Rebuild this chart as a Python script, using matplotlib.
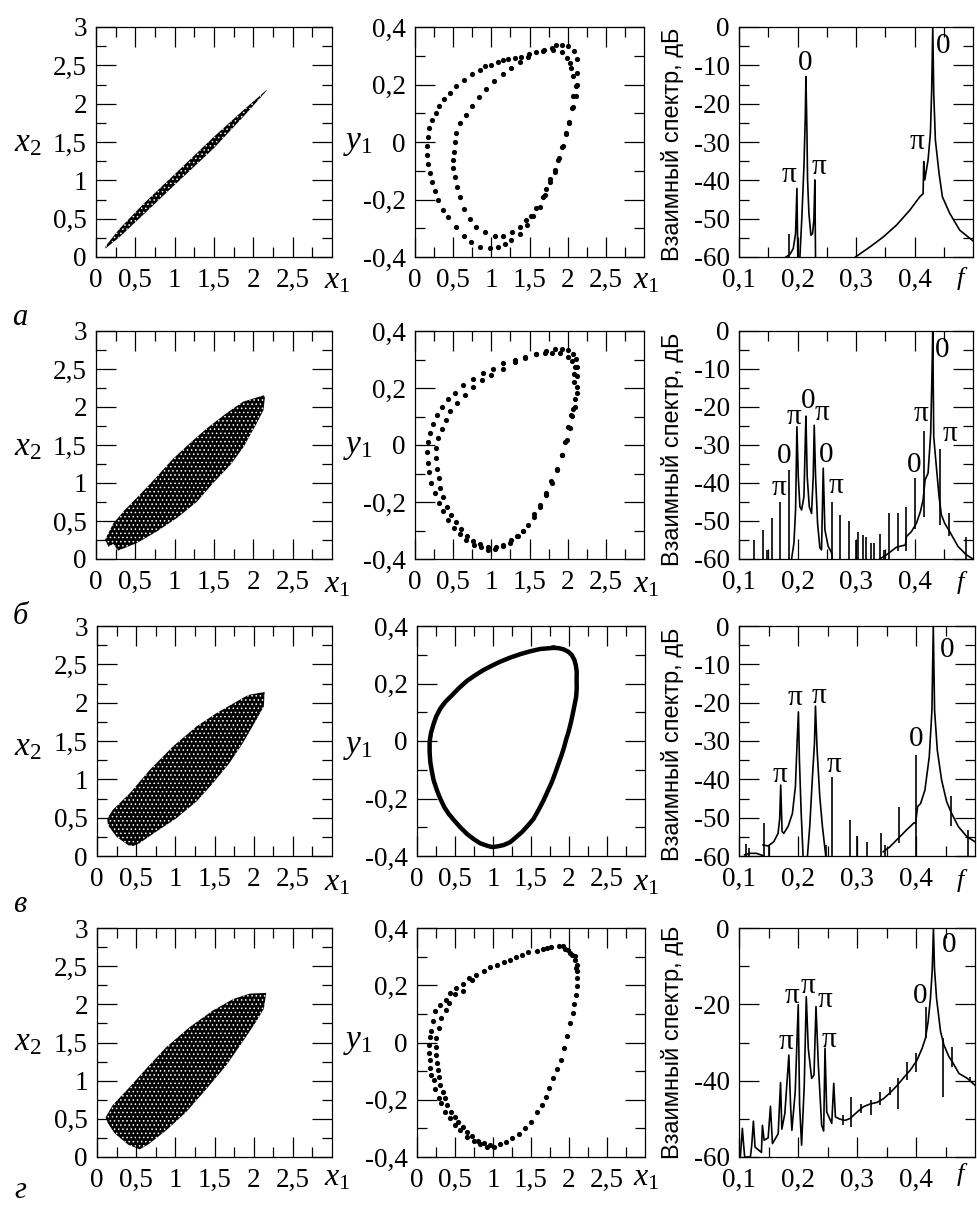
import matplotlib
matplotlib.use("Agg")
import matplotlib.pyplot as plt

plt.rcParams['font.family'] = ['Liberation Serif', 'DejaVu Serif']
plt.rcParams['mathtext.fontset'] = 'custom'
plt.rcParams['mathtext.rm'] = 'Liberation Serif'
plt.rcParams['mathtext.it'] = 'Liberation Serif:italic'
plt.rcParams['hatch.linewidth'] = 0.6

W, H = 977, 1205

# Tick labels
x_major = [0, 0.5, 1, 1.5, 2, 2.5]
x_minor = [0.25, 0.75, 1.25, 1.75, 2.25, 2.75]
x_labels = ["0", "0,5", "1", "1,5", "2", "2,5"]
x2_major = [0, 0.5, 1, 1.5, 2, 2.5, 3]
x2_minor = [0.25, 0.75, 1.25, 1.75, 2.25, 2.75]
x2_labels = ["0", "0,5", "1", "1,5", "2", "2,5", "3"]
y1_major = [-0.4, -0.2, 0, 0.2, 0.4]
y1_minor = [-0.3, -0.1, 0.1, 0.3]
y1_labels = ["-0,4", "-0,2", "0", "0,2", "0,4"]
f_major = [0.1, 0.2, 0.3, 0.4]
f_minor = [0.15, 0.25, 0.35, 0.45]
f_labels = ["0,1", "0,2", "0,3", "0,4"]
db_major = [0, -10, -20, -30, -40, -50, -60]
db_minor = [-5, -15, -25, -35, -45, -55]
db_labels = ["0", "-10", "-20", "-30", "-40", "-50", "-60"]
db4_major = [0, -20, -40, -60]
db4_minor = [-10, -30, -50]
db4_labels = ["0", "-20", "-40", "-60"]
row_letters = ["а", "б", "в", "г"]

# Column 1: outline of the x1-x2 cloud
cloud_a_x = [0.12, 0.3, 0.6, 1.0, 1.5, 1.9, 2.17, 2.17, 1.9, 1.5, 1.0, 0.6, 0.3, 0.12]
cloud_a_y = [0.14, 0.37, 0.69, 1.08, 1.57, 1.94, 2.18, 2.17, 1.86, 1.42, 0.94, 0.55, 0.26, 0.11]
cloud_b_x = [.115, .22, .37, .56, .77, .98, 1.20, 1.41, 1.66, 1.87, 2.15, 2.13, 2.04, 1.88, 1.71, 1.49, 1.28, 1.03, .77, .52, .28, .22, .16]
cloud_b_y = [.254, .47, .65, .85, 1.08, 1.32, 1.53, 1.72, 1.92, 2.07, 2.16, 1.96, 1.78, 1.48, 1.24, 1.0, .75, .54, .36, .21, .11, .20, .16]
cloud_c_x = [.13, .20, .42, .67, .97, 1.27, 1.52, 1.74, 1.93, 2.14, 2.13, 2.03, 1.86, 1.69, 1.48, 1.27, 1.01, .76, .54, .46, .40, .25, .14]
cloud_c_y = [.49, .60, .82, 1.12, 1.43, 1.69, 1.86, 1.99, 2.10, 2.14, 1.95, 1.77, 1.47, 1.21, .95, .71, .49, .32, .165, .13, .14, .25, .40]
cloud_d_x = [.11, .20, .42, .63, .885, 1.18, 1.48, 1.74, 1.95, 2.16, 2.13, 2.03, 1.86, 1.65, 1.40, 1.14, .885, .67, .545, .40, .225, .14]
cloud_d_y = [.52, .68, .92, 1.16, 1.44, 1.70, 1.92, 2.07, 2.14, 2.15, 1.94, 1.77, 1.51, 1.20, .895, .59, .35, .175, .10, .16, .31, .44]

# Column 2: x1-y1 section dots
sec_a_x = [1.92, 1.85, 1.79, 1.69, 1.59, 1.49, 1.39, 1.31, 1.22, 1.15, 1.09, .99, .92, .85, .75, .64, .54, .455, .38, .315, .27, .22, .18, .17, .157, .157, .17, .19, .227, .258, .30, .367, .433, .54, .64, .74, .85, .98, 1.09, 1.18, 1.26, 1.37, 1.47, 1.55, 1.635, 1.70, 1.775, 1.83, 1.89, 1.94, 1.98, 2.02, 2.06, 2.11, 2.125, 2.125, 2.125, 2.08, 2.01,
           2.03, 1.985, 1.92, 1.81, 1.68, 1.48, 1.37, 1.26, 1.15, 1.03, .93, .84, .75, .67, .595, .54, .52, .507, .50, .50, .52, .55, .586, .64, .717, .805, .914, 1.045, 1.154, 1.277, 1.373, 1.46, 1.526, 1.59, 1.68, 1.72, 1.775, 1.83, 1.876, 1.93, 1.976, 2.02, 2.064, 2.07, 2.108, 2.07, 2.05]
sec_a_y = [.337, .336, .327, .319, .313, .305, .296, .291, .289, .284, .278, .268, .264, .25, .235, .215, .194, .17, .15, .126, .10, .075, .048, .019, -.014, -.046, -.077, -.107, -.139, -.17, -.203, -.236, -.261, -.294, -.326, -.349, -.364, -.369, -.364, -.355, -.341, -.32, -.287, -.259, -.226, -.186, -.139, -.104, -.057, -.014, .028, .065, .118, .159, .20, .24, .287, .316, .334,
           .275, .293, .313, .32, .316, .296, .279, .258, .235, .211, .184, .156, .124, .095, .065, .033, .001, -.034, -.063, -.092, -.121, -.156, -.191, -.232, -.267, -.296, -.314, -.326, -.326, -.314, -.296, -.273, -.256, -.229, -.191, -.162, -.127, -.098, -.061, -.016, .03, .071, .121, .159, .194, .229, .258]

sec_b_x = [2.11, 2.125, 2.125, 2.116, 2.10, 2.07, 2.06, 2.007, 1.985, 1.92, 1.863, 1.797, 1.72, 1.635, 1.56, 1.48, 1.417, 1.33, 1.25, 1.154, 1.045, .958, .87, .77, .673, .595, .51, .433, .367, .31, .258, .205, .18, .17, .162, .175, .20, .236, .29, .354, .433, .53, .634, .756, .892, 1.023, 1.154, 1.307, 1.447, 1.58, 1.71, 1.83, 1.93, 2.01, 2.064,
           2.06, 2.007, 1.906, 1.797, 1.70, 1.59, 1.44, 1.307, 1.154, 1.00, .883, .76, .65, .55, .455, .40, .35, .30, .28, .28, .29, .31, .332, .367, .42, .477, .54, .608, .686, .76, .848, .958, 1.067, 1.154, 1.264, 1.35, 1.417, 1.56, 1.644, 1.714, 1.788, 1.854, 1.92, 1.963, 2.03, 2.05, 2.09, 2.116, 2.086, 2.10, 2.08]
sec_b_y = [.301, .274, .242, .204, .163, .128, .102, .064, .018, -.035, -.088, -.134, -.175, -.218, -.251, -.28, -.30, -.321, -.344, -.354, -.365, -.368, -.358, -.35, -.333, -.312, -.292, -.263, -.233, -.202, -.167, -.132, -.096, -.062, -.026, .009, .043, .074, .105, .134, .161, .184, .209, .23, .251, .268, .286, .298, .308, .321, .33, .338, .338, .333, .321,
           .295, .309, .324, .324, .323, .319, .307, .292, .268, .247, .228, .202, .175, .149, .119, .088, .055, .023, -.012, -.047, -.085, -.117, -.152, -.184, -.216, -.245, -.271, -.294, -.321, -.338, -.347, -.358, -.358, -.35, -.335, -.321, -.303, -.242, -.21, -.169, -.128, -.085, -.035, .012, .058, .105, .134, .181, .222, .272, .249]

sec_c_x = [1.796, 1.862, 1.927, 1.993, 2.037, 2.072, 2.089, 2.102, 2.10, 2.102, 2.094, 2.05, 2.024, 1.993, 1.962, 1.936, 1.901, 1.862, 1.818, 1.774, 1.721, 1.664, 1.603, 1.533, 1.459, 1.38, 1.301, 1.226, 1.139, 1.051, .986, .92, .832, .745, .657, .569, .491, .416, .359, .307, .263, .219, .193, .175, .166, .166, .184, .219, .254, .307, .372, .46, .548, .657, .767, .876, .986, 1.095, 1.226, 1.358, 1.489, 1.62, 1.708, 1.796]
sec_c_y = [.324, .323, .319, .31, .299, .281, .264, .241, .212, .183, .153, .095, .063, .031, .005, -.021, -.05, -.079, -.112, -.143, -.174, -.207, -.238, -.271, -.294, -.317, -.335, -.352, -.362, -.367, -.369, -.364, -.356, -.341, -.323, -.30, -.277, -.253, -.23, -.201, -.172, -.137, -.102, -.073, -.038, -.003, .028, .06, .086, .113, .136, .159, .183, .209, .229, .247, .262, .276, .29, .302, .312, .32, .322, .324]

sec_d_x = [1.927, 1.862, 1.761, 1.664, 1.577, 1.467, 1.38, 1.305, 1.226, 1.139, 1.051, .964, .876, .78, .679, .604, .517, .438, .385, .307, .241, .21, .184, .166, .158, .158, .166, .175, .188, .219, .241, .285, .32, .372, .429, .504, .569, .657, .745, .832, .92, 1.007, 1.095, 1.174, 1.248, 1.336, 1.424, 1.498, 1.577, 1.643, 1.695, 1.743, 1.796, 1.848, 1.892, 1.936, 1.98, 2.015, 2.05, 2.072, 2.094, 2.102, 2.102, 2.111, 2.102, 2.081, 2.046, 1.993,
           2.089, 2.081, 2.015, 1.949, 1.708, .723, .604, .504, .416, .385, .315, .289, .254, .25, .254, .263, .276, .285, .307, .337, .364, .394, .451, .504, .534, .6, .657, .723, .797, .876, .964]
sec_d_y = [.337, .336, .334, .327, .321, .315, .307, .298, .289, .281, .272, .265, .251, .237, .225, .204, .19, .173, .149, .132, .109, .074, .041, .018, -.008, -.037, -.061, -.09, -.113, -.131, -.162, -.193, -.212, -.242, -.265, -.288, -.306, -.329, -.344, -.356, -.364, -.364, -.356, -.347, -.333, -.321, -.30, -.277, -.242, -.218, -.189, -.16, -.125, -.092, -.061, -.02, .021, .068, .103, .135, .167, .196, .225, .249, .272, .289, .307, .324,
           .26, .301, .313, .328, .33, .219, .181, .169, .138, .114, .085, .05, .015, -.014, -.043, -.072, -.096, -.119, -.148, -.172, -.195, -.218, -.242, -.259, -.277, -.294, -.312, -.326, -.344, -.352, -.358]

# Column 3: spectra, curve pieces and isolated spikes
spec_a_f1 = [.1802, .1871, .1927, .1967, .199, .2007, .2041, .2075, .211, .2133, .2144, .2161, .2172, .2195, .2229, .2257, .228, .2297, .2309]
spec_a_d1 = [-60, -59.3, -57.8, -53.9, -42.1, -62, -60, -49.5, -36.4, -23.4, -12.9, -26.9, -39.9, -48.6, -54.3, -53.9, -50.4, -39.9, -62]
spec_a_f2 = [.2991, .3236, .3464, .3691, .3919, .409, .4147, .4158, .4175, .4232, .4272, .4294, .4312, .4329, .4357, .442, .4477, .4602, .4773, .5]
spec_a_d2 = [-60, -57.4, -54.8, -51.7, -47.8, -44.3, -43.5, -35.1, -39.9, -34.7, -27.7, -16.4, 0, -17.3, -29.5, -38.2, -44.3, -48.6, -53, -55.8]
spike_a_f = [.1848]
spike_a_top = [-53.9]
spike_a_bot = [-60]

spec_b_f1 = [.1899, .1939, .1967, .199, .2013, .2041, .207, .211, .2132, .2144, .2166, .2201, .224, .2269, .2286, .2309, .2343, .2383, .2411, .244, .2468, .2525, .2582, .261]
spec_b_d1 = [-60, -55.8, -47.1, -25.2, -38.3, -46.2, -47.1, -43.6, -29.6, -22.4, -38.3, -46.2, -48, -38.3, -24.8, -38.3, -50.6, -57.1, -57.6, -36.1, -52.3, -56.7, -58.3, -62]
spec_b_f2 = [.3407, .3521, .3691, .3845, .3862, .3947, .4033, .4101, .4147, .4181, .4232, .4277, .43, .4312, .4329, .4363, .442, .446, .4516, .4602, .4744, .4886, .5]
spec_b_d2 = [-60, -58.9, -56.9, -56.3, -54.1, -52.8, -50.6, -47.5, -44.4, -39.2, -37.4, -26.9, -10.3, 0, -27.8, -33.9, -43.6, -48.4, -50.6, -52.8, -56.7, -58.9, -60]
spike_b_f = [.1256, .1404, .1484, .1558, .17, .1848, .2587, .2724, .2878, .2997, .3037, .3122, .3179, .3248, .3304, .3407, .3475, .356, .372, .3862, .4016, .4158, .4442, .459, .4886]
spike_b_top = [-54.9, -52.3, -57.6, -49.3, -44.9, -36.7, -44.9, -48.4, -49.9, -54.9, -52.8, -53.6, -54.1, -55.8, -55.8, -53.4, -57.6, -47.8, -47.9, -46.2, -38.8, -26.2, -31.1, -47.8, -54.1]
spike_b_bot = [-60, -60, -60, -60, -60, -60, -60, -60, -60, -60, -60, -60, -60, -60, -60, -60, -60, -60, -58, -58, -52, -49, -51, -54, -60]

spec_c_f1 = [.1096, .1181, .1294, .1407]
spec_c_d1 = [-59.7, -59.3, -59.3, -59.9]
spec_c_f2 = [.1407, .1492, .1588, .1662, .169, .1707, .173, .1758, .1832, .1905, .1956, .1984, .2007, .2024, .2052, .2086]
spec_c_d2 = [-57.1, -57.4, -56.3, -54.1, -50.2, -41.5, -53.6, -54.1, -52.3, -48.9, -41.9, -30.6, -22.4, -35, -48, -60]
spec_c_f3 = [.216, .2199, .2245, .2279, .2296, .2324, .2369, .2414, .2471]
spec_c_d3 = [-60, -52.3, -39.3, -30.6, -20.9, -32.4, -44.5, -52.3, -60]
spec_c_f4 = [.3444, .3557, .3699, .384, .397, .3993, .4027, .4078, .4151, .4225, .427, .4293, .4315, .4361, .4434, .4519, .4604, .4717, .4859, .5]
spec_c_d4 = [-58.9, -57.6, -55.4, -53.2, -51.3, -51.5, -47.1, -46.3, -42.8, -34.1, -22, 0, -22, -32.4, -40.2, -45.8, -48.9, -52.3, -54.9, -56.3]
spike_c_f = [.1124, .117, .1419, .1504, .2482, .2584, .2878, .2992, .3173, .3405, .3472, .371, .3999, .4593, .4876]
spike_c_top = [-56.9, -58, -51.3, -57.1, -57, -39.3, -50.6, -54.9, -56.3, -53.9, -57.1, -47.3, -33.7, -44.4, -53.2]
spike_c_bot = [-60, -60, -60, -60, -60, -60, -60, -60, -60, -60, -60, -56.7, -60, -52.3, -60]

spec_d_f = [.1023, .1057, .1079, .1096, .1193, .1216, .1244, .1272, .138, .1397, .1426, .1494, .1533, .1567, .1664, .1704, .1726, .1777, .1845, .1874, .1896, .1953, .2004, .2027, .2061, .2106, .214, .2174, .2231, .2271, .2305, .2345, .2401, .2435, .2458, .2487, .2572, .2606, .2634, .2713, .2799, .2884, .2997, .3111, .3224, .3338, .3451, .3565, .3678, .3792, .3905, .4018, .4104, .416, .4206, .4245, .4274, .4296, .4313, .4348, .4416, .4472, .4557, .4614, .4728, .4869, .5]
spec_d_d = [-60, -52.5, -56.9, -60, -60, -56.9, -50.6, -57.4, -58.8, -51.7, -55.6, -55, -46.7, -56.5, -53.9, -40.5, -52.7, -48.6, -33.3, -46.4, -53, -42.9, -20.1, -46.4, -56.9, -41.2, -18, -31.5, -39.4, -38.5, -20.6, -35.9, -51.7, -53.2, -31.5, -48.2, -51.2, -40.7, -49.5, -50.1, -50.4, -49.9, -48.3, -46.8, -46.1, -45.7, -44.7, -43.1, -41.3, -39.2, -37.2, -34.6, -31.5, -28.9, -24.5, -18.4, -11.4, 0, -10.5, -18.4, -27.1, -30.6, -33.7, -35, -38.1, -39.4, -41.2]
spike_d_f = [.277, .2901, .3065, .3236, .3383, .3565, .3689, .3848, .4001, .4166, .4455, .4603, .4915]
spike_d_top = [-49, -44.2, -46, -45.1, -42.9, -41.6, -39.4, -35, -32.8, -20.6, -28.9, -31.1, -39]
spike_d_bot = [-51.7, -52.1, -48.6, -49, -46.4, -43.8, -47.5, -39.9, -37.7, -28.9, -44.2, -36.3, -40.3]

# Phase labels on the spectral peaks
peak_a_f = [.2127, .4488, .186, .2366, .4044]
peak_a_d = [-9.4, -5, -38.6, -36.6, -29.9]
peak_a_t = ["0", "0", "π", "π", "π"]
peak_b_f = [.1688, .1774, .1945, .2183, .2411, .2496, .2656, .3993, .4118, .4471, .4613]
peak_b_d = [-41.4, -32.9, -22.7, -18.4, -21.5, -32.5, -40.8, -35.3, -21.9, -5.1, -27.1]
peak_b_t = ["π", "0", "π", "0", "π", "0", "π", "0", "π", "0", "π"]
peak_c_f = [.1702, .1945, .2347, .2612, .3999, .453]
peak_c_d = [-38.9, -18.9, -18.3, -36.3, -29.6, -6.3]
peak_c_t = ["π", "π", "π", "π", "0", "0"]
peak_d_f = [.1891, .2163, .2458, .1789, .2532, .4075, .4557]
peak_d_d = [-17.7, -15.1, -18.8, -29.8, -29.3, -17.7, -4.4]
peak_d_t = ["π", "π", "π", "π", "π", "0", "0"]

# Pixel boxes of the panels (left, right, top, bottom)
rows_y = [(27, 257), (331, 559), (626, 856), (928, 1157)]
cols_x = [[(96, 332), (96, 332), (97, 332), (97, 332)],
          [(415, 644), (415, 644), (417, 645), (417, 645)],
          [(739, 973), (739, 973), (739, 975), (739, 975)]]
xlabel_y = [281, 585, 883, 1178]
side_y = [143, 447, 747, 1042]
ylab_y = [144, 449, 744, 1042]
letter_y = [318, 617, 905, 1190]

FS = 19.5
fig = plt.figure(figsize=(W / 100, H / 100), dpi=100)


def make_axes(box, rowbox):
    l, r = box
    t, b = rowbox
    ax = fig.add_axes([l / W, 1 - b / H, (r - l) / W, (b - t) / H])
    for s in ax.spines.values():
        s.set_linewidth(0.9)
    ax.tick_params(which='major', direction='in', top=True, right=True, length=14.4, width=0.9, labelsize=FS)
    ax.tick_params(which='minor', direction='in', top=True, right=True, length=7.2, width=0.9)
    ax.tick_params(axis='x', which='major', pad=8)
    ax.tick_params(axis='y', which='major', pad=6.5)
    return ax


def put(x, y, s, **kw):
    fig.text(x / W, 1 - y / H, s, ha='center', va='center', **kw)


clouds = [(cloud_a_x, cloud_a_y), (cloud_b_x, cloud_b_y), (cloud_c_x, cloud_c_y), (cloud_d_x, cloud_d_y)]
sections = [(sec_a_x, sec_a_y), (sec_b_x, sec_b_y), (sec_c_x, sec_c_y), (sec_d_x, sec_d_y)]
curves = [
    [(spec_a_f1, spec_a_d1), (spec_a_f2, spec_a_d2)],
    [(spec_b_f1, spec_b_d1), (spec_b_f2, spec_b_d2)],
    [(spec_c_f1, spec_c_d1), (spec_c_f2, spec_c_d2), (spec_c_f3, spec_c_d3), (spec_c_f4, spec_c_d4)],
    [(spec_d_f, spec_d_d)],
]
spikes = [
    (spike_a_f, spike_a_top, spike_a_bot),
    (spike_b_f, spike_b_top, spike_b_bot),
    (spike_c_f, spike_c_top, spike_c_bot),
    (spike_d_f, spike_d_top, spike_d_bot),
]
peaks = [(peak_a_f, peak_a_d, peak_a_t), (peak_b_f, peak_b_d, peak_b_t),
         (peak_c_f, peak_c_d, peak_c_t), (peak_d_f, peak_d_d, peak_d_t)]

for i in range(4):
    # x1-x2 cloud
    ax = make_axes(cols_x[0][i], rows_y[i])
    px, py = clouds[i]
    ax.fill(px, py, facecolor='black', edgecolor='white', hatch='....', linewidth=0)
    ax.set_xlim(0, 3)
    ax.set_ylim(0, 3)
    ax.set_xticks(x_major, x_labels)
    ax.set_xticks(x_minor, minor=True)
    ax.set_yticks(x2_major, x2_labels)
    ax.set_yticks(x2_minor, minor=True)
    put(337, xlabel_y[i], "$x_1$", fontsize=23)
    put(28, side_y[i], "$x_2$", fontsize=24)

    # x1-y1 section
    ax = make_axes(cols_x[1][i], rows_y[i])
    sx, sy = sections[i]
    if i == 2:
        ax.plot(sx, sy, color='black', lw=3.2, solid_joinstyle='round')
    else:
        ax.scatter(sx, sy, s=14, color='black', linewidths=0)
    ax.set_xlim(0, 3)
    ax.set_ylim(-0.4, 0.4)
    ax.set_xticks(x_major, x_labels)
    ax.set_xticks(x_minor, minor=True)
    ax.set_yticks(y1_major, y1_labels)
    ax.set_yticks(y1_minor, minor=True)
    put(646, xlabel_y[i], "$x_1$", fontsize=23)
    put(358, side_y[i], "$y_1$", fontsize=24)

    # cross spectrum
    ax = make_axes(cols_x[2][i], rows_y[i])
    for cf, cd in curves[i]:
        ax.plot(cf, cd, color='black', lw=1.2)
    sf, st, sb = spikes[i]
    ax.vlines(sf, sb, st, color='black', lw=1.2)
    for pf, pd_, pt in zip(*peaks[i]):
        ax.text(pf, pd_, pt, ha='center', va='center', fontsize=21)
    ax.set_xlim(0.1, 0.5)
    ax.set_ylim(-60, 0)
    ax.set_xticks(f_major, f_labels)
    ax.set_xticks(f_minor, minor=True)
    if i == 3:
        ax.set_yticks(db4_major, db4_labels)
        ax.set_yticks(db4_minor, minor=True)
    else:
        ax.set_yticks(db_major, db_labels)
        ax.set_yticks(db_minor, minor=True)
    put(962, xlabel_y[i] - 3, "$f$", fontsize=19)
    put(673, ylab_y[i], "Взаимный спектр, дБ", rotation=90, fontsize=17, family='Liberation Sans')
    put(20, letter_y[i], row_letters[i], fontsize=22, style='italic')

fig.savefig("out.png", dpi=100)
